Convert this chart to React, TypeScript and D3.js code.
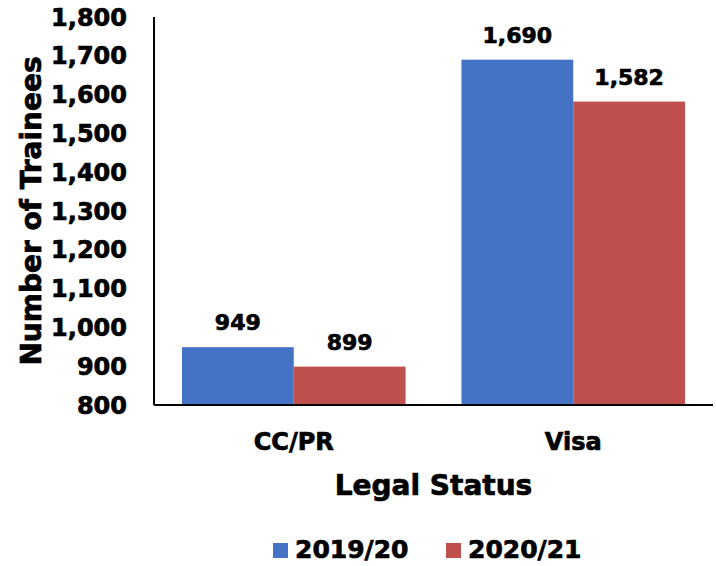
import * as d3 from "d3";

// Chart data
const categories = ["CC/PR", "Visa"];
const seriesNames = ["2019/20", "2020/21"];
const values2019 = [949, 1690];
const values2020 = [899, 1582];
const yTicks = [800, 900, 1000, 1100, 1200, 1300, 1400, 1500, 1600, 1700, 1800];

const COLORS = ["#4472C4", "#C0504D"];
const FONT = "'DejaVu Sans', sans-serif";
const W = 716;
const H = 566;
const MARGIN = { top: 17, right: 3, bottom: 161, left: 154 };

// Text style: heavy black, a thin stroke thickens the bold face a bit
const TEXT = { fill: "#000", stroke: "#000", strokeWidth: 0.7 };

export default function App() {
  const innerW = W - MARGIN.left - MARGIN.right;
  const innerH = H - MARGIN.top - MARGIN.bottom;
  const fmt = d3.format(",");

  const x0 = d3.scaleBand<string>().domain(categories).range([0, innerW]).paddingInner(0.2).paddingOuter(0.1);
  const x1 = d3.scaleBand<string>().domain(seriesNames).range([0, x0.bandwidth()]);
  const y = d3.scaleLinear().domain([800, 1800]).range([innerH, 0]);
  const series = [values2019, values2020];

  return (
    <svg
      width={W}
      height={H}
      style={{ position: "absolute", left: 0, top: 0, background: "#fff" }}
      fontFamily={FONT}
      fontWeight="bold"
    >
      <g transform={`translate(${MARGIN.left},${MARGIN.top})`}>
        {/* y tick labels */}
        {yTicks.map((t) => (
          <text key={t} x={-27} y={y(t)} dy="0.36em" textAnchor="end" fontSize={24} {...TEXT}>
            {fmt(t)}
          </text>
        ))}
        {/* bars + data labels */}
        {categories.map((c, ci) => (
          <g key={c} transform={`translate(${x0(c)},0)`}>
            {seriesNames.map((s, si) => {
              const v = series[si][ci];
              const bx = x1(s) as number;
              return (
                <g key={s}>
                  <rect
                    x={bx}
                    y={y(v)}
                    width={x1.bandwidth()}
                    height={innerH - y(v)}
                    fill={COLORS[si]}
                  />
                  <text
                    x={bx + x1.bandwidth() / 2}
                    y={y(v) - 17}
                    textAnchor="middle"
                    fontSize={22}
                    {...TEXT}
                  >
                    {fmt(v)}
                  </text>
                </g>
              );
            })}
            <text
              x={x0.bandwidth() / 2}
              y={innerH + 45}
              textAnchor="middle"
              fontSize={24}
              {...TEXT}
            >
              {c}
            </text>
          </g>
        ))}
        {/* axes lines */}
        <line x1={0} x2={0} y1={0} y2={innerH} stroke="#000" strokeWidth={2} />
        <line x1={0} x2={innerW} y1={innerH} y2={innerH} stroke="#000" strokeWidth={2} />
        {/* axis titles */}
        <text x={innerW / 2} y={innerH + 90} textAnchor="middle" fontSize={28} {...TEXT}>
          Legal Status
        </text>
        <text
          transform={`translate(${-MARGIN.left + 41},${innerH / 2}) rotate(-90)`}
          textAnchor="middle"
          fontSize={28}
          {...TEXT}
        >
          Number of Trainees
        </text>
      </g>
      {/* legend */}
      {seriesNames.map((s, i) => (
        <g key={s} transform={`translate(${273 + i * 173},543)`}>
          <rect width={15} height={15} fill={COLORS[i]} />
          <text x={22} y={15} fontSize={25} {...TEXT}>
            {s}
          </text>
        </g>
      ))}
    </svg>
  );
}
